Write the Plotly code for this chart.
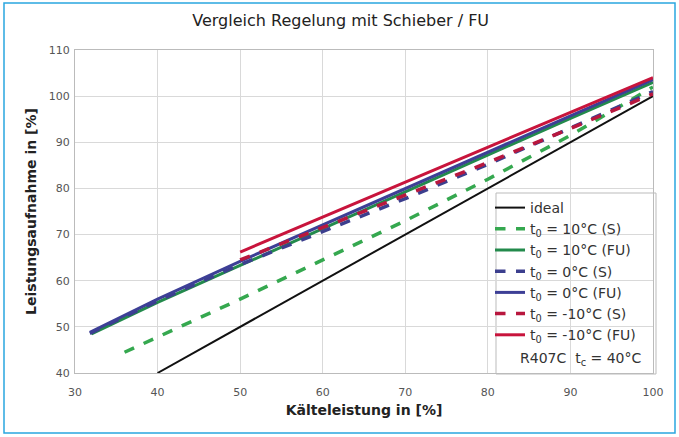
import plotly.graph_objects as go

# ---- data ----
x_ideal = [40, 100]
y_ideal = [40, 100]

x_10_S = [36, 40, 50, 60, 70, 80, 90, 100]
y_10_S = [44.5, 47.8, 56.0, 64.5, 73.0, 82.0, 91.5, 102.0]

x_10_FU = [32, 40, 50, 60, 70, 80, 90, 100]
y_10_FU = [48.5, 55.3, 63.3, 71.3, 79.3, 87.3, 95.2, 103.0]

x_0_S = [31.8, 40, 50, 60, 70, 80, 90, 100]
y_0_S = [48.6, 55.6, 63.5, 70.6, 77.8, 85.2, 93.0, 101.0]

x_0_FU = [31.8, 40, 50, 60, 70, 80, 90, 100]
y_0_FU = [48.8, 56.0, 64.2, 72.1, 80.0, 87.9, 95.8, 103.6]

x_m10_S = [50, 60, 70, 80, 90, 100]
y_m10_S = [64.5, 71.5, 78.5, 85.6, 93.0, 100.5]

x_m10_FU = [50, 60, 70, 80, 90, 100]
y_m10_FU = [66.2, 73.8, 81.4, 89.0, 96.5, 104.0]

x_ticks = [30, 40, 50, 60, 70, 80, 90, 100]
y_ticks = [40, 50, 60, 70, 80, 90, 100, 110]

names = ["ideal",
         "t<sub>0</sub> = 10°C (S)", "t<sub>0</sub> = 10°C (FU)",
         "t<sub>0</sub> = 0°C (S)", "t<sub>0</sub> = 0°C (FU)",
         "t<sub>0</sub> = -10°C (S)", "t<sub>0</sub> = -10°C (FU)"]

series = [(x_ideal, y_ideal, "#111111", "solid", 2),
          (x_10_S, y_10_S, "#35a84f", "dash", 3.5),
          (x_10_FU, y_10_FU, "#238a4c", "solid", 3),
          (x_0_S, y_0_S, "#3c3f8e", "dash", 3.5),
          (x_0_FU, y_0_FU, "#3d3f96", "solid", 3),
          (x_m10_S, y_m10_S, "#b8173e", "dash", 3.5),
          (x_m10_FU, y_m10_FU, "#c8143c", "solid", 3)]

FONT = "DejaVu Sans, Verdana, sans-serif"

fig = go.Figure()
for i, ((xs, ys, col, dash, w), nm) in enumerate(zip(series, names)):
    fig.add_trace(go.Scatter(x=xs, y=ys, mode="lines", name=nm,
                             legendgroup=f"g{i}",
                             line=dict(color=col, dash=dash, width=w)))

W, H = 679, 437
L, R, T, B = 75, 26, 50, 64
pw, ph = W - L - R, H - T - B

def px(xp):
    return (xp - L) / pw

def py(yp):
    return (H - B - yp) / ph

fig.update_layout(
    width=W, height=H,
    margin=dict(l=L, r=R, t=T, b=B),
    paper_bgcolor="white", plot_bgcolor="white",
    font=dict(family=FONT, size=12, color="#333333"),
    title=dict(text="Vergleich Regelung mit Schieber / FU", x=px(365), xanchor="center",
               y=1 - 20 / H, yanchor="middle",
               font=dict(size=16, color="#222222")),
    xaxis=dict(range=[30, 100], tickvals=x_ticks, showgrid=True, gridcolor="#d9d9d9",
               zeroline=False, showline=True, linecolor="#bbbbbb", mirror=True,
               ticks="", ticklabelstandoff=9, tickfont=dict(size=11, color="#555555"),
               title=dict(text="<b>Kälteleistung in [%]</b>", standoff=6,
                          font=dict(size=14, color="#222222"))),
    yaxis=dict(range=[40, 110], tickvals=y_ticks, showgrid=True, gridcolor="#d9d9d9",
               zeroline=False, showline=True, linecolor="#bbbbbb", mirror=True,
               ticks="", ticklabelstandoff=2, tickfont=dict(size=11, color="#555555"),
               title=dict(text="<b>Leistungsaufnahme in [%]</b>", standoff=8,
                          font=dict(size=14, color="#222222"))),
    legend=dict(x=px(490), y=py(192), xanchor="left", yanchor="top",
                bgcolor="rgba(0,0,0,0)", borderwidth=0,
                font=dict(size=14, color="#333333"),
                tracegroupgap=0, itemwidth=30),
    showlegend=True,
    shapes=[
        dict(type="rect", xref="paper", yref="paper",
             x0=px(496), x1=px(656), y0=py(374), y1=py(193),
             line=dict(color="#bbbbbb", width=1), fillcolor="white", layer="below"),
        dict(type="rect", xref="paper", yref="paper",
             x0=px(4), x1=px(675), y0=py(433), y1=py(3),
             line=dict(color="#2aa7df", width=1.5), layer="below"),
    ],
    annotations=[
        dict(text="R407C  t<sub>c</sub> = 40°C", xref="paper", yref="paper",
             x=px(580), y=py(359), xanchor="center", yanchor="middle",
             showarrow=False, font=dict(size=14, color="#333333")),
    ],
)

fig.write_html("out.html", config={"displayModeBar": False},
               post_script="document.body.style.margin='0';")
